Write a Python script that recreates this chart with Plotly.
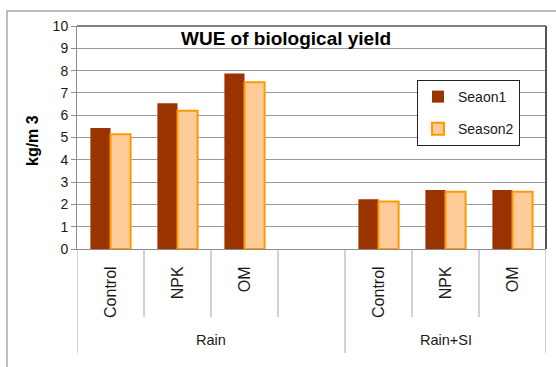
import plotly.graph_objects as go

# ---- data -------------------------------------------------------------
groups = ["Rain", "Rain", "Rain", "Rain", "Rain+SI", "Rain+SI", "Rain+SI"]
treatments = ["Control", "NPK", "OM", "", "Control", "NPK", "OM"]
season1 = [5.43, 6.54, 7.87, None, 2.23, 2.65, 2.65]
season2 = [5.15, 6.20, 7.48, None, 2.13, 2.57, 2.57]
series_names = ["Seaon1", "Season2"]
y_ticks = list(range(0, 11))

title_text = "WUE of biological yield"
y_title = "kg/m 3"

FONT = "Arial, Liberation Sans, sans-serif"
W, H = 556, 367
ML, MR, MT, MB = 77, 10, 26, 118
plot_w = W - ML - MR
plot_h = H - MT - MB
base_px = H - MB


def below(px):
    """paper y for a pixel row below the plot area"""
    return -(px - base_px) / plot_h


n = len(treatments)
pos = list(range(n))

fig = go.Figure()
fig.add_trace(go.Bar(
    x=pos, y=season1, name=series_names[0],
    marker=dict(color="#993300", line=dict(color="#993300", width=0)),
    legendgroup="s1",
))
fig.add_trace(go.Bar(
    x=pos, y=season2, name=series_names[1],
    marker=dict(color="#FFCC99", line=dict(color="#FF9900", width=2)),
    legendgroup="s2",
))

shapes = []
annotations = []
# separators between categories: short inside a group, long at group edges
for b in range(n + 1):
    xb = b - 0.5
    edge = b == 0 or b == n or groups[b - 1] != groups[b]
    shapes.append(dict(type="line", xref="x", yref="paper",
                       x0=xb, x1=xb, y0=0, y1=below(353 if edge else 317),
                       line=dict(color="#a6a6a6", width=1)))
# group labels centred under their categories
seen = []
for g in groups:
    if g not in seen:
        seen.append(g)
for g in seen:
    idx = [i for i, gg in enumerate(groups) if gg == g]
    annotations.append(dict(text=g, xref="x", yref="paper",
                            x=(idx[0] + idx[-1]) / 2, y=below(340),
                            xanchor="center", yanchor="middle", showarrow=False,
                            font=dict(family=FONT, size=14.5, color="#1a1a1a")))
# dark frame on top and right of the plot area
shapes.append(dict(type="line", xref="paper", yref="paper", x0=0, x1=1, y0=1, y1=1,
                   line=dict(color="#555555", width=1.5)))
shapes.append(dict(type="line", xref="paper", yref="paper", x0=1, x1=1, y0=0, y1=1,
                   line=dict(color="#555555", width=2)))
# outer chart border
shapes.append(dict(type="rect", xref="paper", yref="paper",
                   x0=(7 - ML) / plot_w, x1=1.3, y0=-1.0, y1=1 + (MT - 11) / plot_h,
                   line=dict(color="#a8a8a8", width=1.5), fillcolor="rgba(0,0,0,0)"))

annotations += [
    dict(text=title_text, xref="paper", yref="paper",
         x=(286 - ML) / plot_w, y=(base_px - 38) / plot_h,
         xanchor="center", yanchor="middle", showarrow=False,
         font=dict(family=FONT, size=19, color="#000000", weight="bold")),
    dict(text=y_title, xref="paper", yref="paper",
         x=(32 - ML) / plot_w, y=(base_px - 141) / plot_h,
         xanchor="center", yanchor="middle", showarrow=False, textangle=-90,
         font=dict(family=FONT, size=16, color="#000000", weight="bold")),
]

fig.update_layout(
    width=W, height=H,
    margin=dict(l=ML, r=MR, t=MT, b=MB, pad=0),
    paper_bgcolor="white", plot_bgcolor="white",
    font=dict(family=FONT, color="#1a1a1a", size=14),
    barmode="group", bargap=0.4, bargroupgap=0,
    showlegend=True,
    legend=dict(
        x=(417 - ML) / plot_w, y=(base_px - 80) / plot_h,
        xanchor="left", yanchor="top",
        bgcolor="white", bordercolor="#222222", borderwidth=1,
        font=dict(family=FONT, size=14, color="#1a1a1a"),
        traceorder="grouped", tracegroupgap=11,
    ),
    shapes=shapes,
    annotations=annotations,
)

fig.update_xaxes(
    range=[-0.5, n - 0.5], automargin=False,
    tickvals=[i for i in pos if treatments[i]],
    ticktext=[t for t in treatments if t],
    showgrid=False, zeroline=False,
    showline=True, linecolor="#8c8c8c", linewidth=1,
    ticks="", tickangle=-90, ticklabelstandoff=10,
    tickfont=dict(family=FONT, size=16, color="#1a1a1a"),
)
fig.update_yaxes(
    range=[0, 10], tickvals=y_ticks, automargin=False,
    showgrid=True, gridcolor="#9a9a9a", gridwidth=1,
    showline=True, linecolor="#8c8c8c", linewidth=1,
    ticks="outside", ticklen=5, tickcolor="#8c8c8c",
    tickfont=dict(family=FONT, size=14, color="#1a1a1a"),
    zeroline=False,
)

fig.write_html("out.html")
